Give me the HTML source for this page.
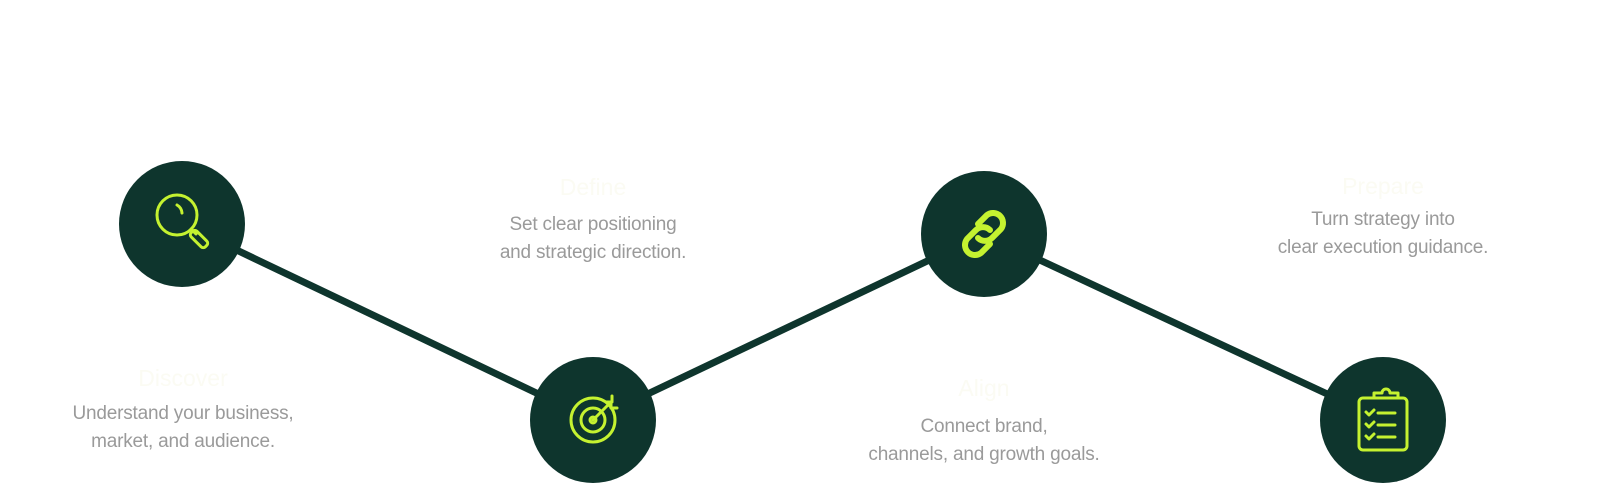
<!DOCTYPE html>
<html><head><style>
body{margin:0;width:1600px;height:496px;background:#fff;overflow:hidden;position:relative;font-family:"Liberation Sans",sans-serif}
.t{position:absolute;width:400px;text-align:center;transform:translateX(-50%)}
.h{font-size:23px;color:#fbfbf3;line-height:26px}
.d{font-size:19px;color:#9a9a9a;line-height:28px;letter-spacing:-0.2px}
</style></head><body>
<svg width="1600" height="496" style="position:absolute;left:0;top:0">
<g stroke="#0e352d" stroke-width="7">
<line x1="182" y1="224" x2="593" y2="420"/>
<line x1="593" y1="420" x2="984" y2="234"/>
<line x1="984" y1="234" x2="1383" y2="420"/>
</g>
<g fill="#0e352d">
<circle cx="182" cy="224" r="63"/>
<circle cx="593" cy="420" r="63"/>
<circle cx="984" cy="234" r="63"/>
<circle cx="1383" cy="420" r="63"/>
</g>
<g fill="none" stroke="#c5f230" stroke-width="3" stroke-linecap="round" stroke-linejoin="round">
<circle cx="177" cy="215" r="20"/>
<path d="M177 205a10 10 0 0 1 5 8"/>
<path d="M191 229l5 5"/>
<rect x="195" y="229" width="8" height="20" rx="3" transform="rotate(-45 199 239)"/>
<circle cx="593" cy="420" r="22"/>
<circle cx="593" cy="420" r="12"/>
<circle cx="593" cy="420" r="3"/>
<path d="M593 420l18-18M606 402h6v-6M611 402v6h6"/>
<path d="M978 224l9-9a10 10 0 0 1 14 14l-9 9a10 10 0 0 1-14 0" stroke-width="6"/>
<path d="M990 244l-9 9a10 10 0 0 1-14-14l9-9a10 10 0 0 1 14 0" stroke-width="6"/>
<rect x="1359" y="398" width="48" height="52" rx="4"/>
<path d="M1374 398v-5h8a4 4 0 0 1 8 0h8v5"/>
<path d="M1366 412l3 3 5-5M1366 424l3 3 5-5M1366 436l3 3 5-5M1378 413h17M1378 425h17M1378 437h17"/>
</g>
</svg>
<div class="t h" style="left:183px;top:365px">Discover</div>
<div class="t d" style="left:183px;top:400px">Understand your business,<br>market, and audience.</div>
<div class="t h" style="left:593px;top:174px">Define</div>
<div class="t d" style="left:593px;top:211px">Set clear positioning<br>and strategic direction.</div>
<div class="t h" style="left:984px;top:375px">Align</div>
<div class="t d" style="left:984px;top:413px">Connect brand,<br>channels, and growth goals.</div>
<div class="t h" style="left:1383px;top:173px">Prepare</div>
<div class="t d" style="left:1383px;top:206px">Turn strategy into<br>clear execution guidance.</div>
</body></html>
